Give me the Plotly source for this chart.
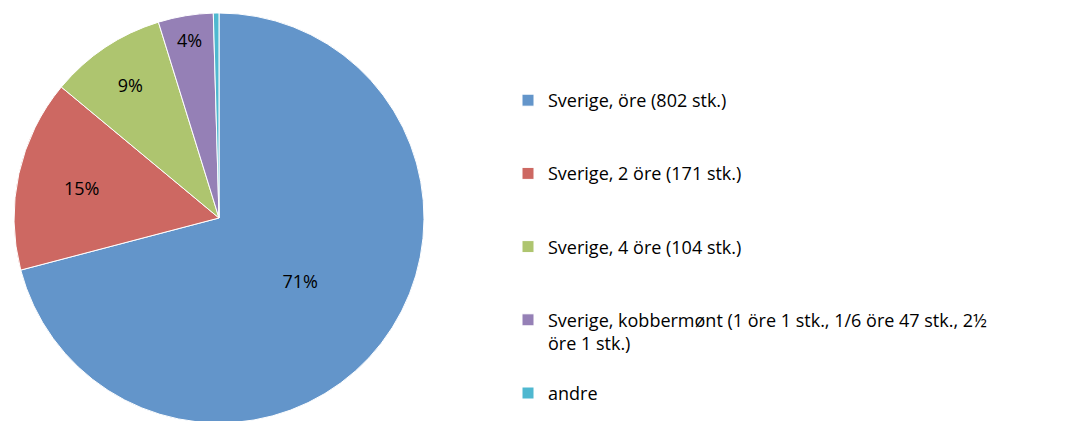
import plotly.graph_objects as go

labels = [
    "Sverige, öre (802 stk.)",
    "Sverige, 2 öre (171 stk.)",
    "Sverige, 4 öre (104 stk.)",
    "Sverige, kobbermønt (1 öre 1 stk., 1/6 öre 47 stk., 2½<br>öre 1 stk.)",
    "andre",
]
values = [802, 171, 104, 49, 5]
slice_text = ["71%", "15%", "9%", "4%", ""]
colors = ["#6395CA", "#CD6862", "#AEC56F", "#9580B6", "#4FB8D0"]

# legend labels padded with blank lines to reproduce the spacing between entries
legend_labels = [l + "<br> " * (1 if "<br>" in l else 2) for l in labels]

fig = go.Figure(
    go.Pie(
        labels=legend_labels,
        values=values,
        text=slice_text,
        textinfo="text",
        textposition="inside",
        insidetextorientation="horizontal",
        textfont=dict(family="Open Sans", size=18, color="black"),
        marker=dict(colors=colors, line=dict(color="white", width=1)),
        sort=False,
        direction="clockwise",
        rotation=0,
        domain=dict(x=[6 / 1076, 416 / 1076], y=[6 / 421, 416 / 421]),
        showlegend=True,
        hoverinfo="label+value+percent",
    )
)

fig.update_layout(
    width=1076,
    height=421,
    margin=dict(l=0, r=0, t=0, b=0, autoexpand=False),
    paper_bgcolor="white",
    plot_bgcolor="white",
    font=dict(family="Open Sans", size=18, color="black"),
    legend=dict(
        x=500 / 1076,
        xanchor="left",
        y=1 - 74 / 421,
        yanchor="top",
        valign="top",
        maxheight=421,
        font=dict(family="Open Sans", size=18, color="black"),
        bgcolor="rgba(0,0,0,0)",
    ),
)

fig.write_html("out.html")
